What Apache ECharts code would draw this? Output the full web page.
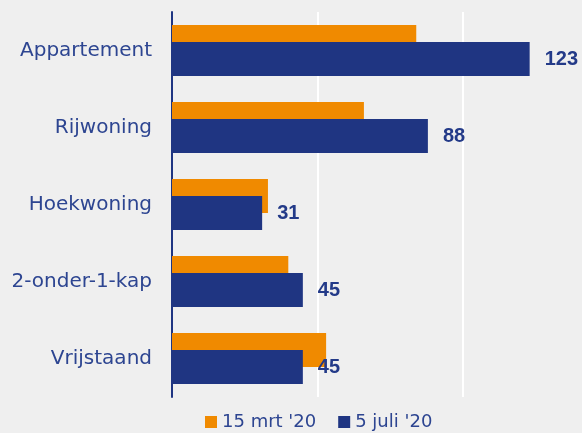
<!DOCTYPE html>
<html>
<head>
<meta charset="utf-8">
<script src="https://cdn.jsdelivr.net/npm/echarts@6/dist/echarts.min.js"></script>
<style>
html,body{margin:0;padding:0;background:#efefef;}
#c{width:582px;height:433px;}
</style>
</head>
<body>
<div id="c"></div>
<script>
const categories = ['Appartement', 'Rijwoning', 'Hoekwoning', '2-onder-1-kap', 'Vrijstaand'];
const seriesNames = ["15 mrt '20", "5 juli '20"];
const valuesMrt = [84, 66, 33, 40, 53];
const valuesJuli = [123, 88, 31, 45, 45];

const chart = echarts.init(document.getElementById('c'), null, {renderer: 'canvas'});
const labelColor = '#2d4591';
chart.setOption({
  backgroundColor: '#efefef',
  animation: false,
  grid: {left: 172, right: 0, top: 12, bottom: 36, containLabel: false},
  legend: {
    data: seriesNames,
    left: 200, top: 408,
    itemWidth: 12, itemHeight: 12, itemGap: 22,
    icon: 'rect',
    textStyle: {color: labelColor, fontSize: 18, fontFamily: 'DejaVu Sans', padding: [0, 0, 0, 0]}
  },
  xAxis: {
    type: 'value', min: 0, max: 141, interval: 50,
    axisLine: {show: false}, axisTick: {show: false}, axisLabel: {show: false},
    splitLine: {show: true, showMinLine: false, showMaxLine: false, lineStyle: {color: '#ffffff', width: 2}}
  },
  yAxis: {
    type: 'category', data: categories, inverse: true,
    axisLine: {show: true, lineStyle: {color: '#1f3582', width: 2}},
    axisTick: {show: false},
    axisLabel: {color: labelColor, fontSize: 20, fontFamily: 'DejaVu Sans', margin: 20}
  },
  series: [
    {
      name: seriesNames[0], type: 'bar', data: valuesMrt,
      barWidth: 34, barGap: '-50%',
      itemStyle: {color: '#f08a00'}
    },
    {
      name: seriesNames[1], type: 'bar', data: valuesJuli,
      barWidth: 34, barGap: '-50%',
      itemStyle: {color: '#1f3582'},
      label: {show: true, position: 'right', distance: 15, color: '#233a88',
        fontSize: 20, fontWeight: 'bold', fontFamily: 'Liberation Sans'}
    }
  ]
});
</script>
</body>
</html>
